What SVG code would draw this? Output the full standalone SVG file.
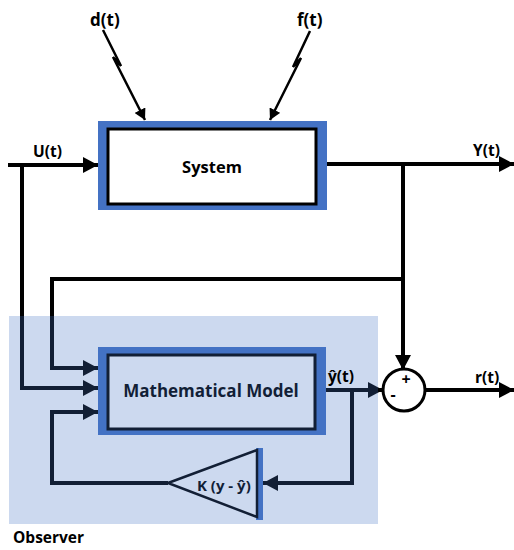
<svg xmlns="http://www.w3.org/2000/svg" width="514" height="550" viewBox="0 0 514 550">
  <defs>
    <marker id="arrow" markerUnits="userSpaceOnUse" markerWidth="16" markerHeight="16" refX="15" refY="8" orient="auto">
      <path d="M0,0 L15,8 L0,16 Z" fill="#000"/>
    </marker>
    <marker id="arrowSmall" markerUnits="userSpaceOnUse" markerWidth="12" markerHeight="12" refX="11" refY="6" orient="auto">
      <path d="M0,0 L11,6 L0,12 Z" fill="#000"/>
    </marker>
  </defs>
  <style>
    .line { fill: none; stroke: #000; stroke-width: 4; }
    .thin { fill: none; stroke: #000; stroke-width: 2.5; stroke-linejoin: miter; }
    .frame { fill: #4472c4; }
    .inner { fill: #fff; stroke: #000; stroke-width: 3; }
    .lbl { font-family: "Open Sans", "DejaVu Sans", sans-serif; font-weight: bold; fill: #000; }
  </style>

  <!-- signal lines -->
  <g id="connectors">
    <!-- input U(t) into the plant -->
    <path class="line" d="M8,165 L98,165" marker-end="url(#arrow)"/>
    <!-- U(t) branch into the model -->
    <path class="line" d="M22,165 L22,388 L98,388" marker-end="url(#arrow)"/>
    <!-- plant output Y(t) -->
    <path class="line" d="M327,164 L514,164" marker-end="url(#arrow)"/>
    <!-- Y(t) down to the summing junction -->
    <path class="line" d="M403,164 L403,370" marker-end="url(#arrow)"/>
    <!-- Y(t) fed back into the model -->
    <path class="line" d="M403,279 L52,279 L52,368 L98,368" marker-end="url(#arrow)"/>
    <!-- estimated output to the summing junction -->
    <path class="line" d="M326,390 L383,390" marker-end="url(#arrow)"/>
    <!-- estimate to the gain block -->
    <path class="line" d="M352,390 L352,483 L263,483" marker-end="url(#arrow)"/>
    <!-- gain correction back into the model -->
    <path class="line" d="M168,483 L52,483 L52,412 L98,412" marker-end="url(#arrow)"/>
    <!-- residual r(t) -->
    <path class="line" d="M426,390 L514,390" marker-end="url(#arrow)"/>
    <!-- disturbance d(t) -->
    <polyline class="thin" points="103,30 121,66 113,57 145,120" marker-end="url(#arrowSmall)"/>
    <!-- fault f(t) -->
    <polyline class="thin" points="310,31 293,67 301,58 270,120" marker-end="url(#arrowSmall)"/>
  </g>

  <!-- plant -->
  <g id="system">
    <rect class="frame" x="98" y="121" width="229" height="89"/>
    <rect class="inner" x="108" y="129" width="208" height="75"/>
    <text class="lbl" x="212" y="173" font-size="16.5" text-anchor="middle">System</text>
  </g>

  <!-- model of the plant -->
  <g id="model">
    <rect class="frame" x="98" y="347" width="228" height="88"/>
    <rect class="inner" x="108" y="355" width="207" height="74"/>
    <text class="lbl" x="211" y="397" font-size="17" text-anchor="middle">Mathematical Model</text>
  </g>

  <!-- observer gain -->
  <g id="gain">
    <rect class="frame" x="256" y="448" width="7" height="72"/>
    <polygon points="168,483 257,450 257,517" fill="#fff" stroke="#000" stroke-width="2.5"/>
    <text class="lbl" x="197" y="491" font-size="15">K (y - ŷ)</text>
  </g>

  <!-- summing junction -->
  <g id="sum">
    <circle cx="404" cy="390" r="21" fill="#fff" stroke="#000" stroke-width="3"/>
    <text class="lbl" x="406" y="385" font-size="16" text-anchor="middle">+</text>
    <text class="lbl" x="393" y="400" font-size="16" text-anchor="middle">-</text>
  </g>

  <!-- observer region -->
  <g id="observer">
    <rect x="9" y="316" width="369" height="208" fill="#4472c4" fill-opacity="0.27"/>
    <text class="lbl" x="13" y="543" font-size="15.5">Observer</text>
  </g>

  <!-- signal names -->
  <g id="labels">
    <text class="lbl" x="33" y="157" font-size="15.5">U(t)</text>
    <text class="lbl" x="473" y="156" font-size="15.5">Y(t)</text>
    <text class="lbl" x="90" y="26" font-size="17">d(t)</text>
    <text class="lbl" x="297" y="26" font-size="17">f(t)</text>
    <text class="lbl" x="328" y="382" font-size="15.5">ŷ(t)</text>
    <text class="lbl" x="475" y="383" font-size="15.5">r(t)</text>
  </g>
</svg>
